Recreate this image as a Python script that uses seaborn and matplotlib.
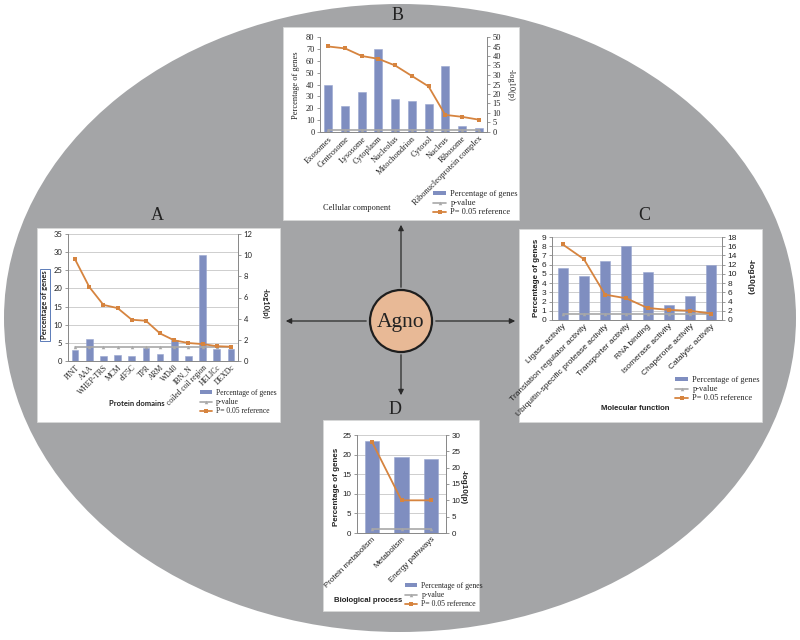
import numpy as np
import pandas as pd
import matplotlib
matplotlib.use("Agg")
import matplotlib.pyplot as plt
import seaborn as sns
from matplotlib.patches import Ellipse, Circle, Rectangle, Patch
from matplotlib.lines import Line2D

# ---------------- data ----------------
cc_terms = ["Exosomes", "Centrosome", "Lysosome", "Cytoplasm", "Nucleolus",
            "Mitochondrion", "Cytosol", "Nucleus", "Ribosome",
            "Ribonucleoprotein complex"]
cc_pct = [40, 22, 34, 70, 28, 26.5, 24, 55.5, 5, 3]
cc_logp = [45, 44, 40, 38.5, 35, 29.5, 24, 9, 8, 6.5]

pd_terms = ["PINT", "AAA", "WHEP-TRS", "MCM", "eIF5C", "TPR", "ARM", "WD40",
            "IBN_N", "coiled coil region", "HELICc", "DEXDc"]
pd_pct = [3, 6, 1.4, 1.7, 1.4, 3.7, 2, 5.8, 1.4, 29.2, 3.2, 3.2]
pd_logp = [9.6, 7.0, 5.3, 5.0, 3.9, 3.8, 2.6, 1.95, 1.7, 1.6, 1.4, 1.35]

mf_terms = ["Ligase activity", "Translation regulator activity",
            "Ubiquitin-specific protease activity", "Transporter activity",
            "RNA binding", "Isomerase activity", "Chaperone activity",
            "Catalytic activity"]
mf_pct = [5.6, 4.8, 6.4, 8.0, 5.2, 1.6, 2.6, 6.0]
mf_logp = [16.4, 13.2, 5.5, 4.7, 2.6, 2.2, 2.0, 1.4]

bp_terms = ["Protein metabolism", "Metabolism", "Energy pathways"]
bp_pct = [23.5, 19.5, 19.0]
bp_logp = [28, 10, 10]

ref_logp = 1.3  # -log10(0.05)
legend_labels = ["Percentage of genes", "p-value", "P= 0.05 reference"]

# ---------------- style ----------------
BAR = "#7f8ec0"
ORANGE = "#d6843f"
GREY = "#a8a8a8"
SERIF = "Liberation Serif"
SANS = "Liberation Sans"

sns.set_theme(style="white")
plt.rcParams["font.family"] = ["DejaVu Sans"]

W, H = 800, 640
fig = plt.figure(figsize=(8, 6.4), dpi=100)
bg = fig.add_axes([0, 0, 1, 1])
bg.set_xlim(0, W)
bg.set_ylim(H, 0)
bg.axis("off")

bg.add_patch(Ellipse((400, 318), 792, 628, fc="#a4a5a7", ec="none"))

boxes = {"B": (283, 27, 519, 220), "A": (37, 228, 280, 422),
         "C": (519, 229, 762, 422), "D": (323, 420, 479, 611)}
for x0, y0, x1, y1 in boxes.values():
    bg.add_patch(Rectangle((x0, y0), x1 - x0, y1 - y0, fc="white", ec="#d8d8d8", lw=0.6))

# arrows from centre
cx, cy = 401, 321
for start, tip in [((cx, cy - 31), (cx, 222)), ((cx - 32, cy), (283, cy)),
                   ((cx + 32, cy), (518, cy)), ((cx, cy + 31), (cx, 398))]:
    bg.annotate("", xy=tip, xytext=start,
                arrowprops=dict(arrowstyle="-|>", color="#2a2a2a", lw=0.9, mutation_scale=8))
bg.add_patch(Circle((cx, cy), 31, fc="#e8b996", ec="#1e1e1e", lw=1.6))
bg.text(cx, cy + 1, "Agno", ha="center", va="center", family=SERIF, fontsize=15.5, color="#222")

for letter, (x, y) in {"B": (398, 15), "A": (157, 215), "C": (644, 215), "D": (395, 409)}.items():
    bg.text(x, y, letter, ha="center", va="center", family=SERIF, fontsize=13, color="#222")


def rect(x0, y0, x1, y1):
    return [x0 / W, 1 - y1 / H, (x1 - x0) / W, (y1 - y0) / H]


def panel(pos, terms, pct, logp, ymax, ystep, rmax, rstep, ytick_font, xtick_font,
          tick_size, xtick_size, grid, legend_xy, legend_size):
    ax = fig.add_axes(rect(*pos))
    ax.set_facecolor("none")
    df = pd.DataFrame({"term": terms, "pct": pct})
    sns.barplot(data=df, x="term", y="pct", color=BAR, saturation=1, width=0.48,
                edgecolor="#9aa6cf", linewidth=0.4, ax=ax)
    ax2 = ax.twinx()
    x = np.arange(len(terms))
    sns.lineplot(x=x, y=[ref_logp] * len(terms), ax=ax2, color=GREY, lw=1.2,
                 marker="^", markersize=2.5, markeredgewidth=0)
    sns.lineplot(x=x, y=logp, ax=ax2, color=ORANGE, lw=1.3,
                 marker="s", markersize=2.8, markeredgewidth=0)
    ax.set_xlim(-0.5, len(terms) - 0.5)
    ax.set_ylim(0, ymax)
    ax.set_yticks(np.arange(0, ymax + 1e-9, ystep))
    ax2.set_ylim(0, rmax)
    ax2.set_yticks(np.arange(0, rmax + 1e-9, rstep))
    ax.set_xlabel("")
    ax.set_ylabel("")
    ax2.set_ylabel("")
    ax.set_xticks(x)
    ax.set_xticklabels(terms, rotation=45, ha="right", rotation_mode="anchor",
                       family=xtick_font, fontsize=xtick_size, color="#222")
    for a in (ax, ax2):
        for lab in a.get_yticklabels():
            lab.set_family(ytick_font)
        a.tick_params(axis="y", length=2, width=0.6, color="#888", labelsize=tick_size,
                      pad=2, labelcolor="#222")
        a.spines["top"].set_visible(False)
        for s in ("left", "right", "bottom"):
            a.spines[s].set_color("#8a8a8a")
            a.spines[s].set_linewidth(0.7)
    ax.tick_params(axis="x", length=0, pad=2)
    if grid:
        ax.yaxis.grid(True, color="#c6c6c6", lw=0.6)
        ax.set_axisbelow(True)
    handles = [Patch(fc=BAR, ec="none"),
               Line2D([], [], color=GREY, lw=1.2, marker="^", ms=2.5, mew=0),
               Line2D([], [], color=ORANGE, lw=1.3, marker="s", ms=3, mew=0)]
    ax2.legend(handles, legend_labels, loc="upper left", bbox_to_anchor=legend_xy,
               bbox_transform=bg.transData, frameon=False, borderpad=0, borderaxespad=0,
               labelspacing=0.15, handlelength=1.6, handleheight=0.5, handletextpad=0.5,
               prop={"family": SERIF, "size": legend_size})
    return ax, ax2


# B: cellular component
panel((320, 37, 487, 132), cc_terms, cc_pct, cc_logp, 80, 10, 50, 5, SERIF, SERIF,
      6, 6, False, (433, 190), 6)
bg.text(296, 85, "Percentage of genes", rotation=90, ha="center", va="center",
        family=SERIF, fontsize=6, color="#222")
bg.text(511, 85, "-log10(p)", rotation=270, ha="center", va="center",
        family=SERIF, fontsize=6, color="#222")
bg.text(357, 208, "Cellular component", ha="center", va="center",
        family=SERIF, fontsize=6, color="#222")

# A: protein domains
panel((68, 234, 238, 361), pd_terms, pd_pct, pd_logp, 35, 5, 12, 2, "Lato", SERIF,
      5.5, 5.5, True, (200, 389), 5.5)
bg.text(45, 305, "Percentage of genes", rotation=90, ha="center", va="center",
        family="Lato", weight="bold", fontsize=5.5, color="#222",
        bbox=dict(boxstyle="square,pad=0.25", fc="white", ec="#5b7bb8", lw=0.7))
bg.text(265, 303, "-log10(p)", rotation=270, ha="center", va="center",
        family="Lato", weight="bold", fontsize=5.5, color="#222")
bg.text(137, 404, "Protein domains", ha="center", va="center",
        family="Lato", weight="bold", fontsize=5.5, color="#222")

# C: molecular function
panel((552, 237, 722, 320), mf_terms, mf_pct, mf_logp, 9, 1, 18, 2, SANS, SANS,
      6, 6, True, (675, 376), 6)
bg.text(537, 278, "Percentage of genes", rotation=90, ha="center", va="center",
        family=SANS, weight="bold", fontsize=5.8, color="#222")
bg.text(750, 277, "-log10(p)", rotation=270, ha="center", va="center",
        family=SANS, weight="bold", fontsize=6, color="#222")
bg.text(635, 408, "Molecular function", ha="center", va="center",
        family=SANS, weight="bold", fontsize=5.6, color="#222")

# D: biological process
panel((357, 435, 446, 533), bp_terms, bp_pct, bp_logp, 25, 5, 30, 5, SANS, SANS,
      5.8, 5.8, True, (405, 582), 5.6)
bg.text(337, 487, "Percentage of genes", rotation=90, ha="center", va="center",
        family=SANS, weight="bold", fontsize=5.8, color="#222")
bg.text(463, 487, "-log10(p)", rotation=270, ha="center", va="center",
        family=SANS, weight="bold", fontsize=5.8, color="#222")
bg.text(368, 601, "Biological process", ha="center", va="center",
        family=SANS, weight="bold", fontsize=5.6, color="#222")

fig.savefig("out.png", dpi=100)
